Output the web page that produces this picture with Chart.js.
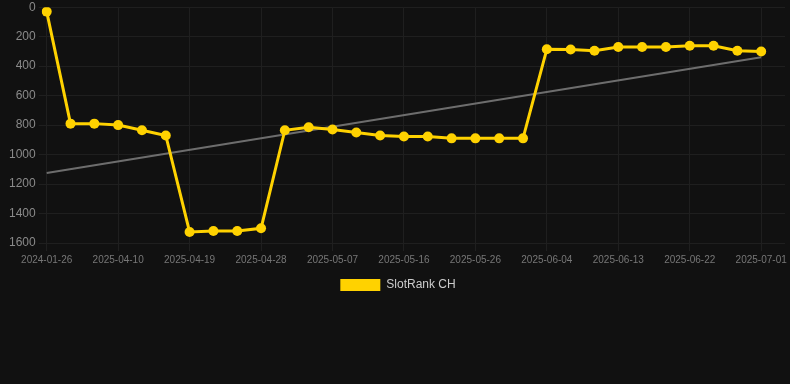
<!DOCTYPE html>
<html>
<head>
<meta charset="utf-8">
<script src="https://cdn.jsdelivr.net/npm/chart.js@4"></script>
<style>
  html, body { margin: 0; padding: 0; background: #111111; overflow: hidden; }
  #wrap { width: 790px; height: 304px; margin-top: -3px; }
</style>
</head>
<body>
<div id="wrap"><canvas id="chart-rank"></canvas></div>
<script>
var dates = [
    "2024-01-26", "2025-04-04", "2025-04-07", "2025-04-10", "2025-04-13", "2025-04-16",
    "2025-04-19", "2025-04-22", "2025-04-25", "2025-04-28", "2025-05-01", "2025-05-04",
    "2025-05-07", "2025-05-10", "2025-05-13", "2025-05-16", "2025-05-19", "2025-05-22",
    "2025-05-26", "2025-05-29", "2025-06-01", "2025-06-04", "2025-06-07", "2025-06-10",
    "2025-06-13", "2025-06-16", "2025-06-19", "2025-06-22", "2025-06-25", "2025-06-28",
    "2025-07-01"
];
var rankCH = [
    30, 790, 790, 800, 835, 870,
    1525, 1519, 1519, 1500, 835, 815,
    830, 850, 870, 877, 877, 890,
    890, 890, 890, 285, 287, 295,
    270, 270, 270, 262, 262, 295,
    300
];
// trend line: only its two ends, drawn straight across the gap
var trendEnds = [1125, 340];
var trend = dates.map(function (d, i) {
    if (i === 0) return trendEnds[0];
    if (i === dates.length - 1) return trendEnds[1];
    return null;
});
var yTicks = [0, 200, 400, 600, 800, 1000, 1200, 1400, 1600];

// one blank slot after the last date so the grid runs on to the right edge
var labels = dates.concat([""]);

var ctx = document.getElementById("chart-rank").getContext("2d");

new Chart(ctx, {
    type: "line",
    data: {
        labels: labels,
        datasets: [
            {
                label: "SlotRank CH",
                data: rankCH,
                borderColor: "rgb(255, 210, 0)",
                backgroundColor: "rgb(255, 210, 0)",
                borderWidth: 3,
                pointRadius: 5,
                pointBackgroundColor: "rgb(255, 210, 0)",
                pointBorderWidth: 0,
                tension: 0
            },
            {
                label: "Trend",
                data: trend,
                borderColor: "rgba(120, 120, 120, 0.9)",
                borderWidth: 2,
                pointRadius: 0,
                spanGaps: true,
                tension: 0
            }
        ]
    },
    options: {
        responsive: true,
        maintainAspectRatio: false,
        animation: false,
        layout: { padding: { top: 0, left: 6, right: 0 } },
        plugins: {
            legend: {
                display: true,
                position: "bottom",
                labels: {
                    boxWidth: 40,
                    boxHeight: 12,
                    color: "#cccccc",
                    font: { size: 12, family: "Liberation Sans, Arial" },
                    filter: function (item) {
                        item.lineWidth = 0;
                        return item.text === "SlotRank CH";
                    }
                }
            },
            tooltip: { enabled: false }
        },
        scales: {
            y: {
                reverse: true,
                min: yTicks[0],
                max: yTicks[yTicks.length - 1],
                afterBuildTicks: function (axis) {
                    axis.ticks = yTicks.map(function (v) { return { value: v }; });
                },
                grid: {
                    color: "#1f1f1f",
                    drawTicks: true
                },
                border: { display: false },
                ticks: {
                    color: "#8a8a8a",
                    font: { size: 12, family: "Liberation Sans, Arial" },
                    callback: function (v) { return String(v); }
                }
            },
            x: {
                grid: {
                    color: function (c) { return c.index % 3 === 0 && c.index < dates.length ? "#1f1f1f" : "transparent"; }
                },
                border: { display: false },
                ticks: {
                    autoSkip: false,
                    maxRotation: 0,
                    color: "#777777",
                    font: { size: 10, family: "Liberation Sans, Arial" },
                    callback: function (v, i) { return i % 3 === 0 && i < dates.length ? dates[i] : ""; }
                }
            }
        }
    }
});
</script>
</body>
</html>
